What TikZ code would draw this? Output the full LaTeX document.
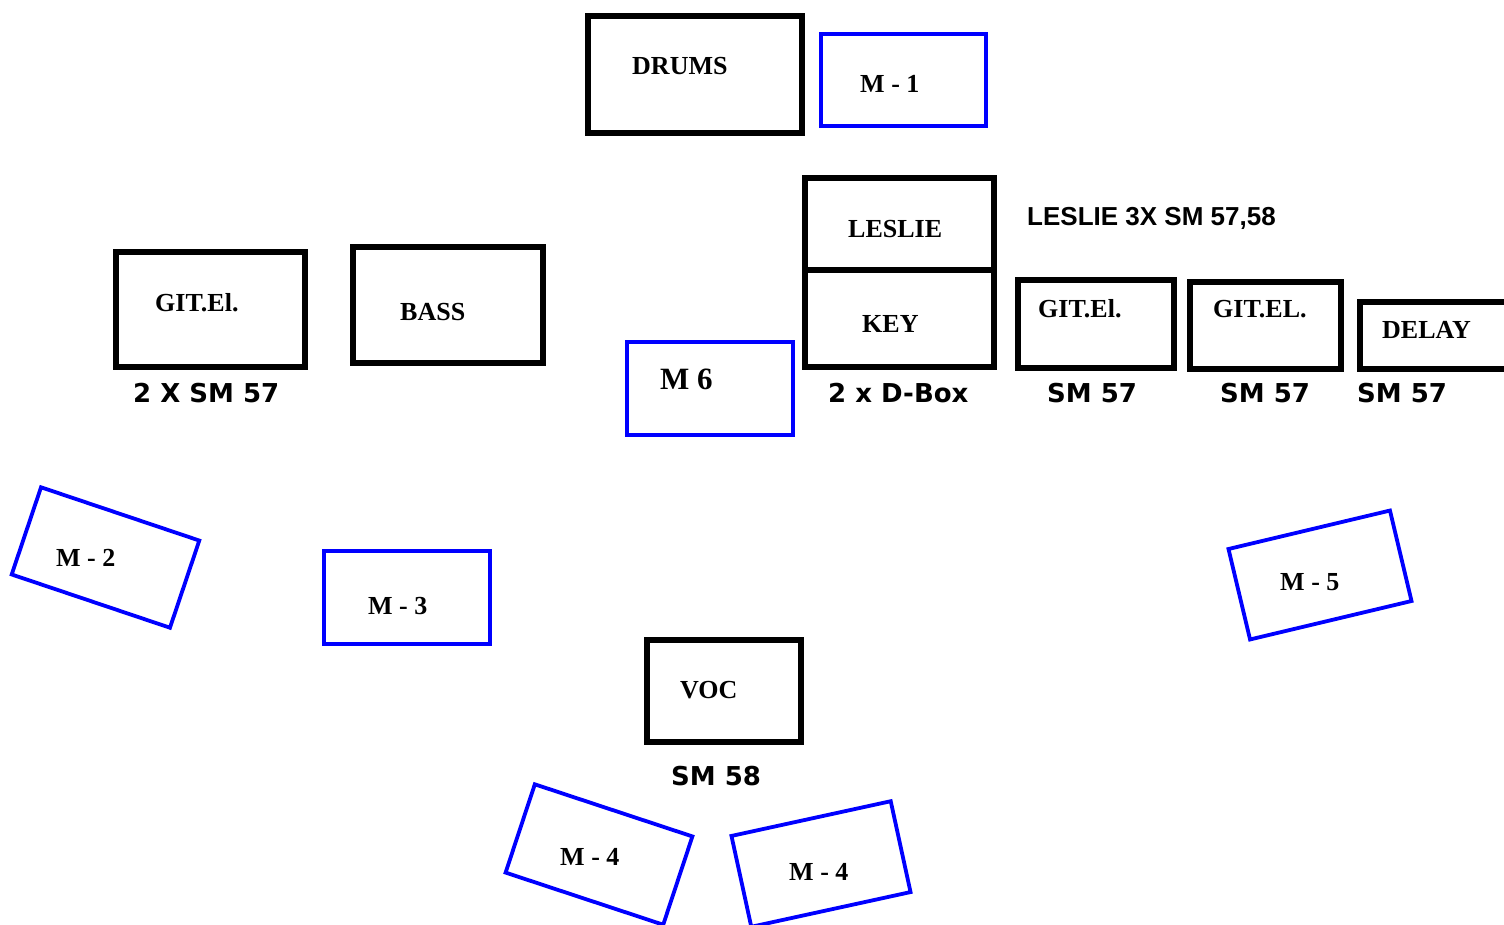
\documentclass[tikz,border=0pt]{standalone}
\usepackage{fontspec}
\setmainfont{Liberation Serif}
\newfontfamily\labsans{DejaVu Sans}
\newfontfamily\arialb{Liberation Sans}
\begin{document}
\begin{tikzpicture}[x=1pt,y=-1pt,
  blackbox/.style={draw=black,line width=6pt,rectangle,inner sep=0pt},
  bluebox/.style={draw=blue,line width=3.8pt,rectangle,inner sep=0pt},
  boxlab/.style={anchor=base west,inner sep=0pt,font=\fontsize{26}{30}\selectfont\bfseries},
  biglab/.style={anchor=base west,inner sep=0pt,font=\fontsize{31}{36}\selectfont\bfseries},
  miclab/.style={anchor=base west,inner sep=0pt,font=\fontsize{26}{30}\selectfont\labsans\bfseries},
  notelab/.style={anchor=base west,inner sep=0pt,font=\fontsize{26}{30}\selectfont\arialb\bfseries}]
\useasboundingbox[fill=white] (0,0) rectangle (1504,924);
% black boxes
\node[blackbox,minimum width=214pt,minimum height=117pt] (drums) at (695,74.5) {};
\node[blackbox,minimum width=189pt,minimum height=92pt] (leslie) at (899.5,224) {};
\node[blackbox,minimum width=189pt,minimum height=97pt] (key) at (899.5,318.5) {};
\node[blackbox,minimum width=156pt,minimum height=88pt] (gitr) at (1096,324) {};
\node[blackbox,minimum width=151pt,minimum height=87pt] (gitel) at (1265.5,325.5) {};
\node[blackbox,minimum width=155pt,minimum height=67pt] (delay) at (1437.5,335.5) {};
\node[blackbox,minimum width=189pt,minimum height=115pt] (gitl) at (210.5,309.5) {};
\node[blackbox,minimum width=190pt,minimum height=116pt] (bass) at (448,305) {};
\node[blackbox,minimum width=154pt,minimum height=102pt] (voc) at (724,691) {};
% blue boxes
\node[bluebox,minimum width=165pt,minimum height=92pt] (m1) at (903.5,80) {};
\node[bluebox,minimum width=166pt,minimum height=93pt] (m6) at (710,388.5) {};
\node[bluebox,minimum width=166pt,minimum height=93pt] (m3) at (407,597.5) {};
\node[bluebox,minimum width=167pt,minimum height=92pt,rotate=-18.6] (m2) at (105.5,557.5) {};
\node[bluebox,minimum width=166pt,minimum height=93pt,rotate=13.4] (m5) at (1320,575) {};
\node[bluebox,minimum width=166pt,minimum height=93pt,rotate=-18.3] (m4a) at (599,854.5) {};
\node[bluebox,minimum width=163pt,minimum height=93pt,rotate=12.3] (m4b) at (821,864) {};
% box labels
\node[boxlab] (tdrums) at (632,74) {DRUMS};
\node[boxlab] (tm1) at (860,92) {M - 1};
\node[boxlab] (tleslie) at (848,237) {LESLIE};
\node[boxlab] (tkey) at (862,332) {KEY};
\node[boxlab] (tgitr) at (1038,317) {GIT.El.};
\node[boxlab] (tgitel) at (1213,317) {GIT.EL.};
\node[boxlab] (tdelay) at (1382,338) {DELAY};
\node[boxlab] (tgitl) at (155,311) {GIT.El.};
\node[boxlab] (tbass) at (400,320) {BASS};
\node[biglab] (tm6) at (660,389) {M 6};
\node[boxlab] (tm3) at (368,614) {M - 3};
\node[boxlab] (tvoc) at (680,698) {VOC};
\node[boxlab] (tm2) at (56,566) {M - 2};
\node[boxlab] (tm5) at (1280,590) {M - 5};
\node[boxlab] (tm4a) at (560,865) {M - 4};
\node[boxlab] (tm4b) at (789,880) {M - 4};
% mic labels
\node[notelab] (tlesmic) at (1027,225) {LESLIE 3X SM 57,58};
\node[miclab] (tdbox) at (828,402) {2 x D-Box};
\node[miclab] (tsm1) at (1047,402) {SM 57};
\node[miclab] (tsm2) at (1220,402) {SM 57};
\node[miclab] (tsm3) at (1357,402) {SM 57};
\node[miclab] (t2x) at (133,402) {2 X SM 57};
\node[miclab] (tsm58) at (671,785) {SM 58};
\end{tikzpicture}
\end{document}
